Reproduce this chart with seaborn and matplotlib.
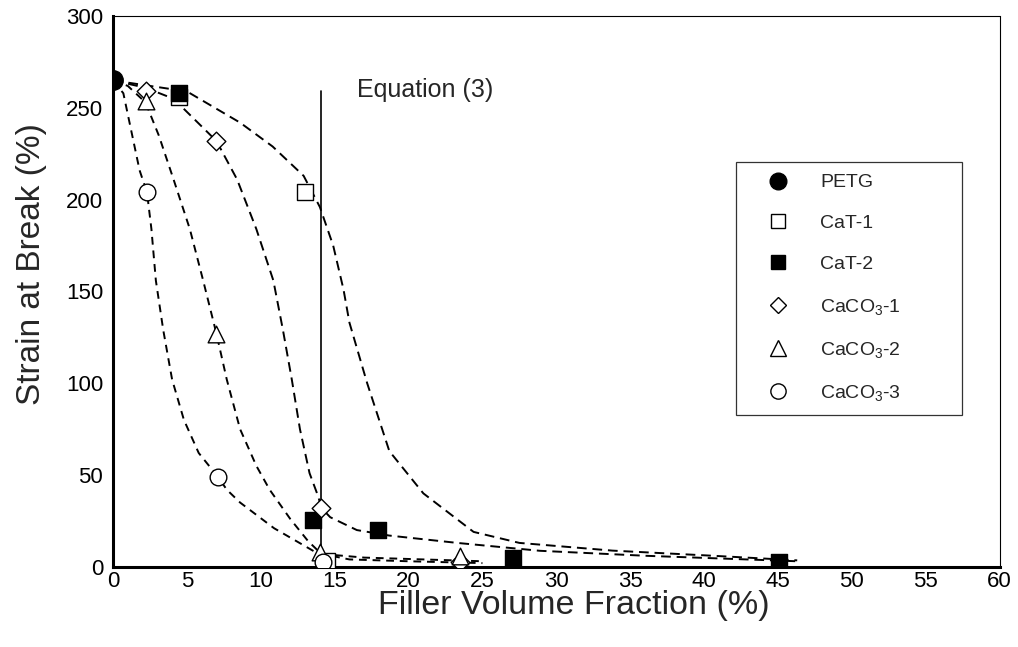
import matplotlib
matplotlib.use("Agg")
import matplotlib.pyplot as plt
import seaborn as sns
import pandas as pd

# ---- data ----
series_names = ["PETG", "CaT-1", "CaT-2", "CaCO$_3$-1", "CaCO$_3$-2", "CaCO$_3$-3"]
petg_x = [0.0]
petg_y = [265]
cat1_x = [4.5, 13.0, 14.5]
cat1_y = [256, 204, 3]
cat2_x = [4.5, 13.5, 17.9, 27.1, 45.1]
cat2_y = [258, 25.5, 20, 4.7, 2.6]
caco1_x = [2.2, 7.0, 14.1, 23.5]
caco1_y = [259, 232, 32, 2.5]
caco2_x = [2.2, 7.0, 14.0, 23.5]
caco2_y = [254, 127, 8, 5.8]
caco3_x = [2.3, 7.1, 14.2]
caco3_y = [204, 49, 2.6]

# dashed fit curves
fitA_x = [0, 0.7, 1.8, 2.3, 2.6, 2.9, 3.4, 4.0, 4.8, 5.8, 7.1, 7.7, 8.6, 10.9, 13.8, 16, 20, 25]
fitA_y = [265, 258, 216, 204, 184, 156, 129, 102, 80, 62, 49, 42, 35, 21, 7.5, 4, 3, 2]
fitB_x = [0, 1.0, 2.2, 3.1, 4.1, 5.2, 6.1, 7.0, 7.7, 8.6, 9.7, 10.6, 12.0, 13.2, 14.1, 17, 21, 25]
fitB_y = [265, 262, 253, 235, 211, 184, 156, 127, 102, 75, 55, 42, 26, 14, 7, 5, 4, 3]
fitC_x = [0, 2.2, 4.1, 7.0, 8.4, 9.7, 10.85, 11.5, 12.1, 12.65, 13.3, 13.9, 14.1, 14.7, 16.5,
          18.7, 23.3, 28.9, 36, 46.3]
fitC_y = [265, 261, 255, 232, 211, 184, 156, 129, 102, 75, 51, 38, 32, 27, 20,
          17, 13, 8.7, 6, 3]
fitD_x = [0, 5.0, 8.6, 10.8, 12.9, 14.0, 14.9, 15.6, 16.0, 17.2, 18.7, 21.0, 24.4, 27.5,
          33.8, 40.6, 46.3]
fitD_y = [265, 259, 242, 229, 213, 196, 175, 151, 133, 100, 63, 40, 19, 13,
          8.8, 6, 3.5]

eq_x = 14.1
eq_top = 259

x_ticks = list(range(0, 61, 5))
y_ticks = list(range(0, 301, 50))

sns.set_style("white")
plt.rcParams['font.family'] = ['Liberation Sans', 'DejaVu Sans']
plt.rcParams['mathtext.fontset'] = 'custom'
plt.rcParams['mathtext.rm'] = 'Liberation Sans'
plt.rcParams['mathtext.it'] = 'Liberation Sans'

fig = plt.figure(figsize=(10.18, 6.47), dpi=100)
ax = fig.add_axes([0.111, 0.124, 0.871, 0.851])

# curves
curves = [(fitA_x, fitA_y, (4, 3)), (fitB_x, fitB_y, (4, 3)),
          (fitC_x, fitC_y, (5, 3)), (fitD_x, fitD_y, (5, 3))]
for cx, cy, dash in curves:
    dfc = pd.DataFrame({"x": cx, "y": cy})
    sns.lineplot(data=dfc, x="x", y="y", ax=ax, color="black", lw=1.4,
                 sort=False, estimator=None, legend=False)
    ax.lines[-1].set_dashes(dash)

ax.plot([eq_x, eq_x], [0, eq_top], color="black", lw=1.2)
ax.text(16.5, 260, "Equation (3)", fontsize=18, ha="left", va="center")

# markers
specs = [
    (petg_x, petg_y, "o", "black", 14, 12),
    (cat1_x, cat1_y, "s", "white", 11, 10),
    (cat2_x, cat2_y, "s", "black", 12, 10),
    (caco1_x, caco1_y, "D", "white", 9.5, 8.5),
    (caco2_x, caco2_y, "^", "white", 12, 11),
    (caco3_x, caco3_y, "o", "white", 12, 11),
]
handles = []
for name, (sx, sy, m, fc, ms, lms) in zip(series_names, specs):
    dfp = pd.DataFrame({"x": sx, "y": sy})
    sns.scatterplot(data=dfp, x="x", y="y", ax=ax, marker=m, s=ms ** 2,
                    facecolor=fc, edgecolor="black", linewidth=1.0, zorder=5,
                    legend=False)
    h, = ax.plot([], [], ls="none", marker=m, markersize=lms,
                 markerfacecolor=fc, markeredgecolor="black", markeredgewidth=1.0)
    handles.append(h)

# legend box: x 0.703..0.958, top near 0.735 (axes fraction)
leg = ax.legend(handles, series_names, loc="upper left", mode="expand",
                bbox_to_anchor=(0.703, 0.735 - 0.46, 0.958 - 0.703, 0.46),
                fontsize=14, frameon=True, fancybox=False, edgecolor="black",
                labelspacing=1.2, borderpad=0.6, handletextpad=0.6,
                borderaxespad=0, handlelength=3.1)
leg.get_frame().set_linewidth(0.9)

ax.set_xlim(0, 60)
ax.set_ylim(0, 300)
ax.set_xticks(x_ticks)
ax.set_yticks(y_ticks)
ax.tick_params(direction="in", length=5, width=1, labelsize=16, colors="black")
ax.tick_params(axis="x", pad=3)
ax.tick_params(axis="y", pad=7)
ax.set_xlabel("Filler Volume Fraction (%)", fontsize=24.5)
ax.set_ylabel("Strain at Break (%)", fontsize=24)
ax.xaxis.set_label_coords(0.52, -0.043)
ax.yaxis.set_label_coords(-0.074, 0.55)

for side in ["left", "bottom"]:
    ax.spines[side].set_linewidth(2.2)
    ax.spines[side].set_color("black")
for side in ["top", "right"]:
    ax.spines[side].set_linewidth(0.8)
    ax.spines[side].set_color("black")
    ax.spines[side].set_linestyle((0, (3, 1)))

fig.savefig("out.png", dpi=100)
